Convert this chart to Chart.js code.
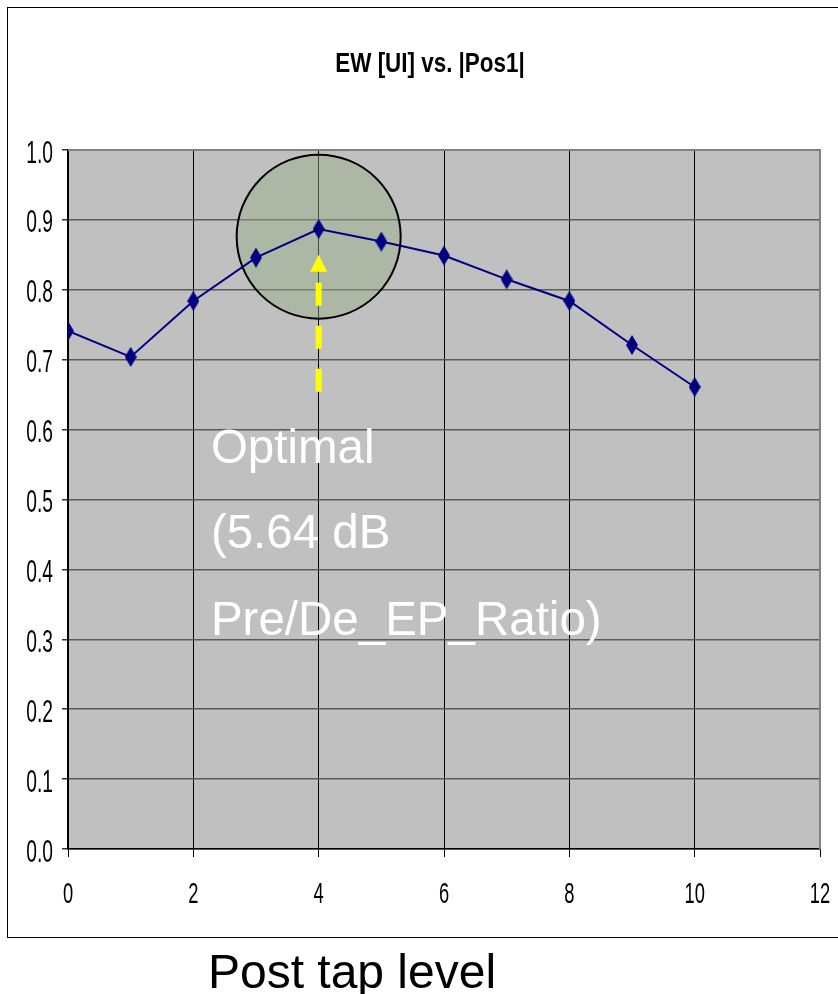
<!DOCTYPE html>
<html>
<head>
<meta charset="utf-8">
<script src="https://cdn.jsdelivr.net/npm/chart.js@4"></script>
<style>
  html, body { margin: 0; padding: 0; background: #fff; }
  #wrap { width: 838px; height: 994px; }
</style>
</head>
<body>
<div id="wrap"><canvas id="ewChart" width="838" height="994"></canvas></div>
<script>
// ── Data ──────────────────────────────────────────────────────
const postTapLevels = [0, 1, 2, 3, 4, 5, 6, 7, 8, 9, 10];
const ewValues      = [0.741, 0.704, 0.784, 0.846, 0.887, 0.869, 0.849, 0.815, 0.784, 0.721, 0.661];

const chartTitle  = 'EW [UI] vs. |Pos1|';
const xAxisTitle  = 'Post tap level';
const noteLines   = ['Optimal', '(5.64 dB', 'Pre/De_EP_Ratio)'];

// annotation anchors (data units)
const optimumX    = 4;
const circleY     = 0.876;
const arrowFrom   = 0.654;
const arrowTo     = 0.850;
const noteX       = 2.28;
const noteBaseY   = [0.552, 0.431, 0.306];

// ── Fonts / colours ───────────────────────────────────────────
const SANS = "'Liberation Sans', Arial, sans-serif";
const NAVY = '#000080';

// diamond marker (taller than wide, like the stretched Excel chart)
function makeDiamond() {
    const c = document.createElement('canvas');
    c.width = 12; c.height = 20;
    const g = c.getContext('2d');
    g.fillStyle = NAVY;
    g.beginPath();
    g.moveTo(6, 0); g.lineTo(12, 10); g.lineTo(6, 20); g.lineTo(0, 10);
    g.closePath();
    g.fill();
    return c;
}

// narrow text: no Arial Narrow here, so squeeze Liberation Sans
function narrowText(ctx, text, x, y, align, squeeze) {
    ctx.save();
    ctx.translate(x, y);
    ctx.scale(squeeze, 1);
    ctx.textAlign = align;
    ctx.fillText(text, 0, 0);
    ctx.restore();
}

// ── Plugins ───────────────────────────────────────────────────
const plotBg = {
    id: 'plotBg',
    beforeDraw(chart) {
        const { ctx, chartArea: a } = chart;
        ctx.save();
        ctx.fillStyle = '#fff';
        ctx.fillRect(0, 0, chart.width, chart.height);
        ctx.fillStyle = '#c0c0c0';
        ctx.fillRect(a.left, a.top, a.right - a.left, a.bottom - a.top);
        ctx.restore();
    }
};

const circleMark = {
    id: 'circleMark',
    beforeDatasetsDraw(chart) {
        const { ctx, scales: { x, y } } = chart;
        const cx = x.getPixelForValue(optimumX);
        const cy = y.getPixelForValue(circleY);
        ctx.save();
        ctx.beginPath();
        ctx.arc(cx, cy, 82, 0, Math.PI * 2);
        ctx.fillStyle = 'rgba(150, 172, 132, 0.45)';
        ctx.fill();
        ctx.lineWidth = 2;
        ctx.strokeStyle = '#000';
        ctx.stroke();
        ctx.restore();
    }
};

const overlay = {
    id: 'overlay',
    afterDatasetsDraw(chart) {
        const { ctx, scales: { x, y } } = chart;
        const ax = x.getPixelForValue(optimumX);
        const yBottom = y.getPixelForValue(arrowFrom);
        const yTip = y.getPixelForValue(arrowTo);
        const headLen = 17;

        ctx.save();
        // dashed yellow shaft
        ctx.strokeStyle = '#ffff00';
        ctx.lineWidth = 6;
        ctx.setLineDash([23, 20]);
        ctx.beginPath();
        ctx.moveTo(ax, yBottom);
        ctx.lineTo(ax, yTip + headLen);
        ctx.stroke();
        ctx.setLineDash([]);
        // head
        ctx.fillStyle = '#ffff00';
        ctx.beginPath();
        ctx.moveTo(ax, yTip);
        ctx.lineTo(ax + 8.5, yTip + headLen);
        ctx.lineTo(ax - 8.5, yTip + headLen);
        ctx.closePath();
        ctx.fill();

        // white note text
        ctx.fillStyle = '#fff';
        ctx.font = '47.5px ' + SANS;
        ctx.textAlign = 'left';
        ctx.textBaseline = 'alphabetic';
        noteLines.forEach((t, i) => {
            ctx.fillText(t, x.getPixelForValue(noteX), y.getPixelForValue(noteBaseY[i]));
        });
        ctx.restore();
    },
    afterDraw(chart) {
        const { ctx, chartArea: a, scales: { x, y } } = chart;
        ctx.save();
        // outer chart frame (right side runs off the picture)
        ctx.strokeStyle = '#000';
        ctx.lineWidth = 1;
        ctx.strokeRect(7.5, 7.5, chart.width + 10, 930);

        // plot border top/right in gray
        ctx.strokeStyle = '#808080';
        ctx.lineWidth = 2;
        ctx.beginPath();
        ctx.moveTo(a.left, a.top);
        ctx.lineTo(a.right, a.top);
        ctx.lineTo(a.right, a.bottom);
        ctx.stroke();

        ctx.fillStyle = '#000';
        ctx.textBaseline = 'alphabetic';

        // tick labels
        ctx.font = '31px ' + SANS;
        y.ticks.forEach(t => {
            narrowText(ctx, t.value.toFixed(1), 53, y.getPixelForValue(t.value) + 12.5, 'right', 0.62);
        });
        ctx.font = '30px ' + SANS;
        x.ticks.forEach(t => {
            narrowText(ctx, String(t.value), x.getPixelForValue(t.value), 903, 'center', 0.61);
        });

        // title
        ctx.font = 'bold 27px ' + SANS;
        narrowText(ctx, chartTitle, 430, 72, 'center', 0.83);

        // axis caption below the frame
        ctx.font = '48px ' + SANS;
        ctx.textAlign = 'center';
        ctx.fillText(xAxisTitle, 352, 988);
        ctx.restore();
    }
};

// ── Chart ─────────────────────────────────────────────────────
const ctx = document.getElementById('ewChart').getContext('2d');
new Chart(ctx, {
    type: 'scatter',
    data: {
        datasets: [{
            label: 'EW [UI]',
            data: postTapLevels.map((v, i) => ({ x: v, y: ewValues[i] })),
            showLine: true,
            borderColor: NAVY,
            borderWidth: 2,
            pointStyle: makeDiamond(),
            pointRadius: 6,
            tension: 0
        }]
    },
    options: {
        responsive: false,
        devicePixelRatio: 1,
        animation: false,
        events: [],
        layout: { padding: { top: 150, right: 18, left: 0, bottom: 0 } },
        plugins: {
            legend: { display: false },
            title: { display: false },
            tooltip: { enabled: false }
        },
        scales: {
            x: {
                type: 'linear',
                min: 0, max: 12,
                afterFit(s) { s.height = 145; s.paddingLeft = 0; s.paddingRight = 0; },
                ticks: { stepSize: 2, display: false },
                grid: {
                    color: c => (c.tick && c.tick.value === 12) ? '#808080' : '#000',
                    lineWidth: 1,
                    tickLength: 8,
                    tickColor: '#000'
                },
                border: { color: '#000', width: 1.5 }
            },
            y: {
                min: 0, max: 1,
                afterFit(s) { s.width = 68; s.paddingTop = 0; s.paddingBottom = 0; },
                ticks: { stepSize: 0.1, display: false },
                grid: {
                    color: c => (c.tick && c.tick.value === 1) ? '#808080' : '#5a5a5a',
                    lineWidth: 1.5,
                    tickLength: 6,
                    tickColor: '#333'
                },
                border: { color: '#000', width: 1.5 }
            }
        }
    },
    plugins: [plotBg, circleMark, overlay]
});
</script>
</body>
</html>
